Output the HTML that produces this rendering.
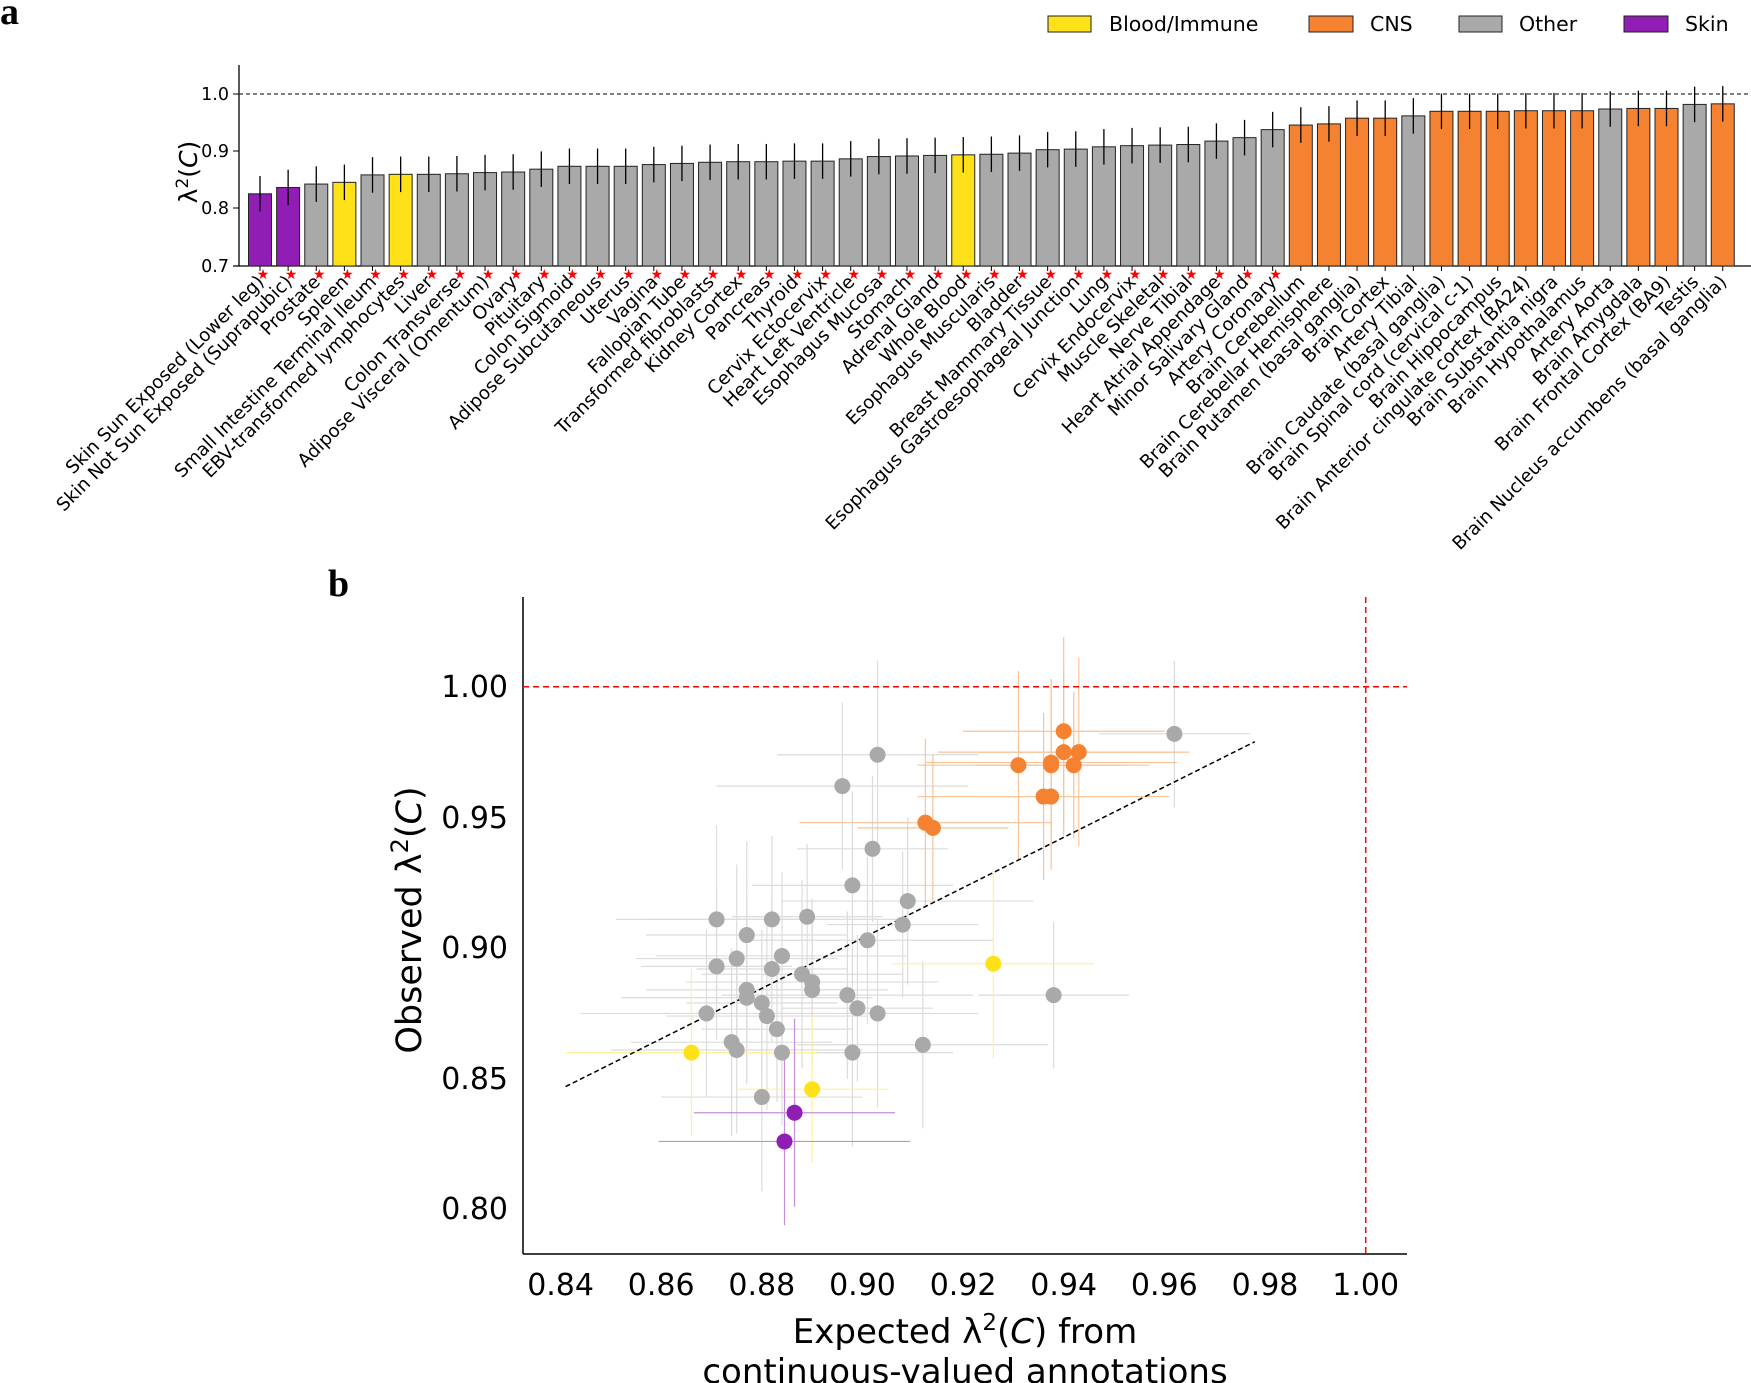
<!DOCTYPE html>
<html><head><meta charset="utf-8">
<style>
html,body{margin:0;padding:0;background:#fff;}
svg{display:block;font-family:"DejaVu Sans","Liberation Sans",sans-serif;}
</style></head>
<body>
<svg id="s" width="1751" height="1383" viewBox="0 0 1751 1383" xmlns="http://www.w3.org/2000/svg">
<text x="0" y="24" font-family="Liberation Serif,serif" font-weight="bold" font-size="38">a</text>
<text x="328" y="596" font-family="Liberation Serif,serif" font-weight="bold" font-size="38">b</text>
<!-- legend -->
<rect x="1048" y="16" width="43" height="16" fill="#ffe119" stroke="#222" stroke-width="1"/>
<text x="1109" y="31" font-size="20.5">Blood/Immune</text>
<rect x="1309" y="16" width="44" height="16" fill="#f58231" stroke="#222" stroke-width="1"/>
<text x="1370" y="31" font-size="20.5">CNS</text>
<rect x="1459" y="16" width="43" height="16" fill="#a9a9a9" stroke="#222" stroke-width="1"/>
<text x="1519" y="31" font-size="20.5">Other</text>
<rect x="1624" y="16" width="44" height="16" fill="#911eb4" stroke="#222" stroke-width="1"/>
<text x="1685" y="31" font-size="20.5">Skin</text>
<!-- panel a axes -->
<line x1="239" y1="65" x2="239" y2="266" stroke="#000" stroke-width="1.3"/>
<line x1="233" y1="266" x2="1751" y2="266" stroke="#000" stroke-width="1.3"/>
<line x1="239" y1="94" x2="1751" y2="94" stroke="#333" stroke-width="1.2" stroke-dasharray="4,3"/>
<g font-size="17.5" text-anchor="end">
<text x="229" y="100">1.0</text><line x1="233" y1="94" x2="239" y2="94" stroke="#000"/>
<text x="229" y="157">0.9</text><line x1="233" y1="151" x2="239" y2="151" stroke="#000"/>
<text x="229" y="214">0.8</text><line x1="233" y1="208" x2="239" y2="208" stroke="#000"/>
<text x="229" y="272">0.7</text>
</g>
<text transform="translate(197,172) rotate(-90)" font-size="25" text-anchor="middle">λ<tspan font-size="17" dy="-9">2</tspan><tspan dy="9">(</tspan><tspan font-style="italic">C</tspan>)</text>
<g id="bars"></g>
<!-- panel b axes -->
<line x1="523" y1="597" x2="523" y2="1254" stroke="#000" stroke-width="1.5"/>
<line x1="523" y1="1254" x2="1407" y2="1254" stroke="#000" stroke-width="1.5"/>
<g id="sc"></g>
<line x1="523" y1="686.8" x2="1407" y2="686.8" stroke="#f00" stroke-width="1.5" stroke-dasharray="6,4"/>
<line x1="1365.7" y1="597" x2="1365.7" y2="1254" stroke="#f00" stroke-width="1.5" stroke-dasharray="6,4"/>
<g font-size="30" text-anchor="end">
<text x="508" y="697">1.00</text><text x="508" y="828">0.95</text><text x="508" y="958">0.90</text><text x="508" y="1089">0.85</text><text x="508" y="1219">0.80</text>
</g>
<g font-size="30" text-anchor="middle">
<text x="560.6" y="1295">0.84</text><text x="661.2" y="1295">0.86</text><text x="761.8" y="1295">0.88</text><text x="862.5" y="1295">0.90</text><text x="963.1" y="1295">0.92</text><text x="1063.7" y="1295">0.94</text><text x="1164.3" y="1295">0.96</text><text x="1265" y="1295">0.98</text><text x="1365.7" y="1295">1.00</text>
</g>
<text x="965" y="1343" font-size="34" text-anchor="middle">Expected λ<tspan font-size="23" dy="-13">2</tspan><tspan dy="13">(</tspan><tspan font-style="italic">C</tspan>) from</text>
<text x="965" y="1383" font-size="34" text-anchor="middle">continuous-valued annotations</text>
<text transform="translate(421,920) rotate(-90)" font-size="35" text-anchor="middle">Observed λ<tspan font-size="24" dy="-13">2</tspan><tspan dy="13">(</tspan><tspan font-style="italic">C</tspan>)</text>
</svg>
<script>
var NS="http://www.w3.org/2000/svg";
function el(p,t,a,txt){var e=document.createElementNS(NS,t);for(var k in a)e.setAttribute(k,a[k]);if(txt!=null)e.textContent=txt;p.appendChild(e);return e;}
var C={y:"#ffe119",o:"#f58231",g:"#a9a9a9",p:"#911eb4"};
var D=[["Skin Sun Exposed (Lower leg)",.826,"p"],["Skin Not Sun Exposed (Suprapubic)",.837,"p"],["Prostate",.843,"g"],["Spleen",.846,"y"],["Small Intestine Terminal Ileum",.859,"g"],["EBV-transformed lymphocytes",.860,"y"],["Liver",.860,"g"],["Colon Transverse",.861,"g"],["Adipose Visceral (Omentum)",.863,"g"],["Ovary",.864,"g"],["Pituitary",.869,"g"],["Colon Sigmoid",.874,"g"],["Adipose Subcutaneous",.874,"g"],["Uterus",.874,"g"],["Vagina",.877,"g"],["Fallopian Tube",.879,"g"],["Transformed fibroblasts",.881,"g"],["Kidney Cortex",.882,"g"],["Pancreas",.882,"g"],["Thyroid",.883,"g"],["Cervix Ectocervix",.883,"g"],["Heart Left Ventricle",.887,"g"],["Esophagus Mucosa",.891,"g"],["Stomach",.892,"g"],["Adrenal Gland",.893,"g"],["Whole Blood",.894,"y"],["Esophagus Muscularis",.895,"g"],["Bladder",.897,"g"],["Breast Mammary Tissue",.903,"g"],["Esophagus Gastroesophageal Junction",.904,"g"],["Lung",.908,"g"],["Cervix Endocervix",.910,"g"],["Muscle Skeletal",.911,"g"],["Nerve Tibial",.912,"g"],["Heart Atrial Appendage",.918,"g"],["Minor Salivary Gland",.924,"g"],["Artery Coronary",.938,"g"],["Brain Cerebellum",.946,"o"],["Brain Cerebellar Hemisphere",.948,"o"],["Brain Putamen (basal ganglia)",.958,"o"],["Brain Cortex",.958,"o"],["Artery Tibial",.962,"g"],["Brain Caudate (basal ganglia)",.970,"o"],["Brain Spinal cord (cervical c-1)",.970,"o"],["Brain Hippocampus",.970,"o"],["Brain Anterior cingulate cortex (BA24)",.971,"o"],["Brain Substantia nigra",.971,"o"],["Brain Hypothalamus",.971,"o"],["Artery Aorta",.974,"g"],["Brain Amygdala",.975,"o"],["Brain Frontal Cortex (BA9)",.975,"o"],["Testis",.982,"g"],["Brain Nucleus accumbens (basal ganglia)",.983,"o"]];
var g=document.getElementById("bars");
function Yb(v){return 266-(v-0.7)*573;}
D.forEach(function(d,i){var cx=260+28.13*i,y=Yb(d[1]);
el(g,"rect",{x:cx-11.5,y:y,width:23,height:266-y,fill:C[d[2]],stroke:"#222","stroke-width":1});
el(g,"line",{x1:cx,x2:cx,y1:Yb(d[1]+0.031),y2:Yb(d[1]-0.031),stroke:"#000","stroke-width":1.3});
el(g,"line",{x1:cx,x2:cx,y1:266,y2:271,stroke:"#000"});
if(i<37)el(g,"text",{x:cx+3,y:279,"font-size":14,fill:"#f00","text-anchor":"middle"},"★");
el(g,"text",{transform:"translate("+(cx+5)+",283) rotate(-45)","font-size":18.3,"text-anchor":"end"},d[0]);
});
function X(v){return 560.6+(v-0.84)*5031;}function Y(v){return 686.8-(v-1)*2613;}
var P=[[.962,.982,"g"],[.903,.974,"g"],[.896,.962,"g"],[.902,.938,"g"],[.898,.924,"g"],[.909,.918,"g"],[.908,.909,"g"],[.871,.911,"g"],[.882,.911,"g"],[.889,.912,"g"],[.877,.905,"g"],[.901,.903,"g"],[.871,.893,"g"],[.875,.896,"g"],[.884,.897,"g"],[.882,.892,"g"],[.888,.890,"g"],[.890,.887,"g"],[.890,.884,"g"],[.877,.884,"g"],[.877,.881,"g"],[.880,.879,"g"],[.881,.874,"g"],[.897,.882,"g"],[.899,.877,"g"],[.903,.875,"g"],[.869,.875,"g"],[.883,.869,"g"],[.874,.864,"g"],[.875,.861,"g"],[.884,.860,"g"],[.898,.860,"g"],[.912,.863,"g"],[.938,.882,"g"],[.880,.843,"g"],
[.9125,.948,"o"],[.914,.946,"o"],[.931,.970,"o"],[.9375,.971,"o"],[.9375,.970,"o"],[.940,.983,"o"],[.940,.975,"o"],[.942,.970,"o"],[.943,.975,"o"],[.936,.958,"o"],[.9375,.958,"o"],
[.926,.894,"y"],[.866,.860,"y"],[.890,.846,"y"],[.8865,.837,"p"],[.8845,.826,"p"]];
var L={g:"#dcdcdc",o:"#f9c39a",y:"#fff0a0",p:"#c48fd6"};
var sc=document.getElementById("sc");
P.forEach(function(p,i){var hx=0.015+0.005*((i*7)%3),hy=0.028+0.004*((i*5)%3);
el(sc,"line",{x1:X(p[0]-hx),x2:X(p[0]+hx),y1:Y(p[1]),y2:Y(p[1]),stroke:L[p[2]],"stroke-width":1.2});
el(sc,"line",{x1:X(p[0]),x2:X(p[0]),y1:Y(p[1]-hy),y2:Y(p[1]+hy),stroke:L[p[2]],"stroke-width":1.2});});
el(sc,"line",{x1:X(.841),y1:Y(.847),x2:X(.978),y2:Y(.979),stroke:"#000","stroke-width":1.5,"stroke-dasharray":"5,3"});
P.forEach(function(p){el(sc,"circle",{cx:X(p[0]),cy:Y(p[1]),r:8,fill:C[p[2]]});});
</script>
</body></html>
